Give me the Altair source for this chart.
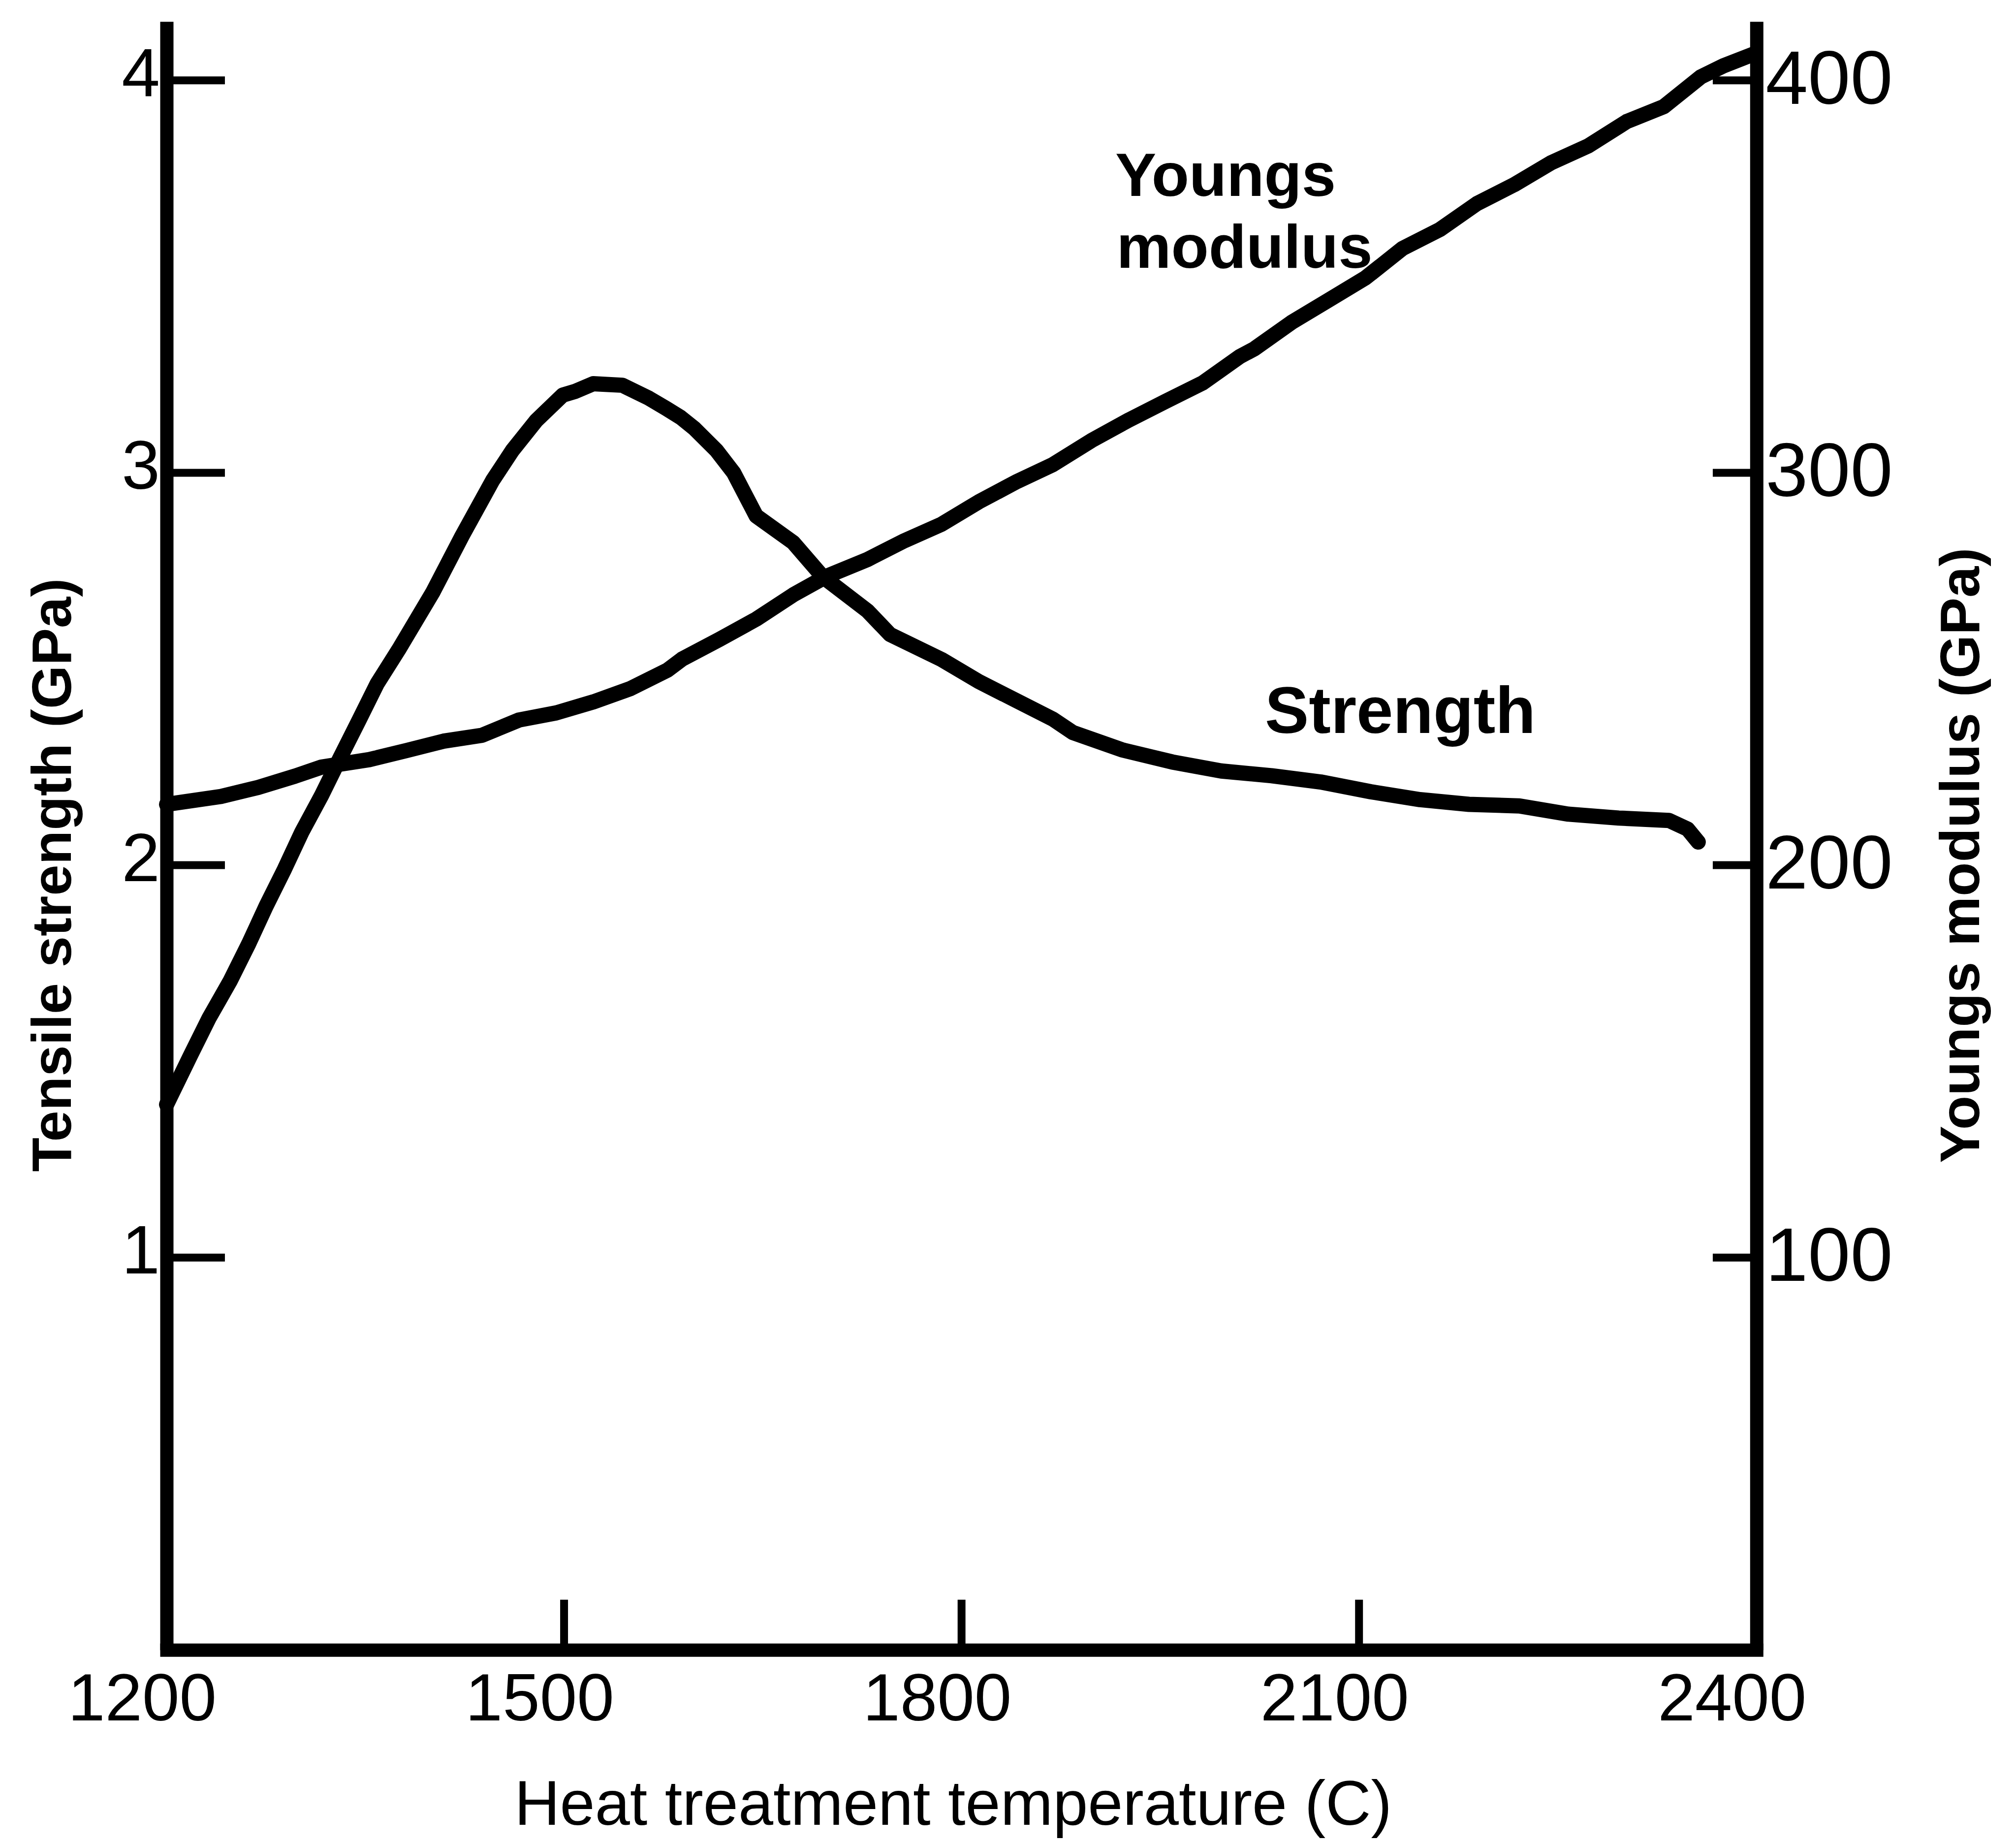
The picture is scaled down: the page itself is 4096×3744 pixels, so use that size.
import altair as alt
import pandas as pd

# ---- data ----
strength_T = [1200, 1218, 1232, 1248, 1262, 1275, 1289, 1302, 1317, 1331, 1345, 1359,
              1376, 1401, 1423, 1446, 1461, 1479, 1499, 1508, 1522, 1544, 1564, 1577,
              1588, 1598, 1615, 1628, 1645, 1673, 1695, 1729, 1746, 1785, 1813, 1841,
              1869, 1884, 1921, 1959, 1996, 2034, 2071, 2109, 2146, 2183, 2221, 2258,
              2296, 2334, 2348, 2356]
strength_S = [1.39, 1.515, 1.61, 1.705, 1.80, 1.895, 1.99, 2.084, 2.178, 2.274, 2.368, 2.463,
              2.554, 2.696, 2.839, 2.98, 3.057, 3.133, 3.198, 3.207, 3.227, 3.223, 3.19, 3.164,
              3.141, 3.114, 3.057, 3.0, 2.89, 2.822, 2.736, 2.648, 2.588, 2.524, 2.468, 2.42,
              2.372, 2.338, 2.294, 2.263, 2.24, 2.228, 2.212, 2.187, 2.167, 2.155, 2.151, 2.13,
              2.12, 2.114, 2.092, 2.059]

young_T = [1200, 1241, 1269, 1297, 1317, 1353, 1381, 1409, 1438, 1466, 1494, 1522, 1550,
           1578, 1589, 1617, 1645, 1673, 1698, 1729, 1757, 1785, 1813, 1842, 1869, 1898,
           1926, 1954, 1982, 2010, 2021, 2049, 2077, 2105, 2133, 2161, 2189, 2217, 2245,
           2273, 2302, 2330, 2358, 2375, 2397]
young_E = [215.5, 217.5, 219.8, 222.7, 225.0, 226.9, 229.2, 231.6, 233.1, 237.0, 238.8, 241.6, 245.0,
           249.7, 252.5, 257.5, 262.7, 268.9, 273.6, 277.9, 282.7, 286.9, 292.6, 297.8, 302.1, 308.2,
           313.4, 318.2, 322.9, 329.6, 331.6, 338.3, 344.0, 349.7, 357.2, 362.0, 368.6, 373.4, 379.0,
           383.3, 389.5, 393.3, 400.9, 403.7, 406.6]

x_ticks = [1200, 1500, 1800, 2100, 2400]
left_ticks = [1, 2, 3, 4]
right_ticks = [100, 200, 300, 400]

annot_young = ["Youngs", "modulus"]
annot_young_T = [1916, 1917]
annot_young_S = [3.705, 3.523]
annot_str = ["Strength"]
annot_str_T = [2029]
annot_str_S = [2.337]

# ---- styling constants ----
XMIN, XMAX = 1200, 2400
YMAX_L, YMAX_R = 4.15, 415
TICK_L = 44      # deg C, inward tick length on left axis
TICK_R = 33      # deg C, inward tick length on right axis
TICK_X = 0.128   # GPa, inward tick length on x axis

df_s = pd.DataFrame({"T": strength_T, "S": strength_S})
df_y = pd.DataFrame({"T": young_T, "E": young_E})
df_xt = pd.DataFrame({"T": [v for v in x_ticks if XMIN < v < XMAX]})
df_xt["S"] = 0.0
df_xt["S1"] = TICK_X
df_lt = pd.DataFrame({"S": left_ticks})
df_lt["T"] = XMIN
df_lt["T1"] = XMIN + TICK_L
df_rt = pd.DataFrame({"E": right_ticks})
df_rt["T"] = XMAX - TICK_R
df_rt["T1"] = XMAX
df_ay = pd.DataFrame({"label": annot_young, "T": annot_young_T, "S": annot_young_S})
df_as = pd.DataFrame({"label": annot_str, "T": annot_str_T, "S": annot_str_S})

FONT = "Liberation Sans"
common = dict(domainColor="black", domainWidth=27, ticks=False,
              grid=False, labelColor="black", labelFont=FONT, titleColor="black",
              titleFont=FONT, labelOverlap=False, labelLimit=0, titleLimit=0)

xscale = alt.Scale(domain=[XMIN, XMAX], nice=False, zero=False)
ylscale = alt.Scale(domain=[0, YMAX_L], nice=False)
yrscale = alt.Scale(domain=[0, YMAX_R], nice=False)

xaxis = alt.Axis(values=x_ticks, format="d", labelFontSize=136, labelPadding=36,
                 labelOffset=-50, labelFlush=False, domainCap="square",
                 title="Heat treatment temperature (C)", titleFontSize=128,
                 titleFontWeight="normal", titleX=1600, titleY=355,
                 titleBaseline="alphabetic", titleAlign="center", **common)
ylaxis = alt.Axis(orient="left", values=left_ticks, format="d", labelFontSize=140,
                  labelPadding=14, labelOffset=-10, domainCap="butt",
                  title="Tensile strength (GPa)", titleFontSize=114, titleFontWeight="bold",
                  titleAngle=270, titleX=-195, titleY=1736, titleBaseline="alphabetic",
                  titleAlign="center", **common)
yraxis = alt.Axis(orient="right", values=right_ticks, format="d", labelFontSize=155,
                  labelPadding=18, domainCap="butt",
                  title="Youngs modulus (GPa)", titleFontSize=114, titleFontWeight="bold",
                  titleAngle=270, titleX=452, titleY=1696, titleBaseline="alphabetic",
                  titleAlign="center", **common)

X = alt.X("T:Q", scale=xscale, axis=xaxis)
YL = alt.Y("S:Q", scale=ylscale, axis=ylaxis)
YR = alt.Y("E:Q", scale=yrscale, axis=yraxis)

line_kw = dict(color="black", strokeWidth=31, strokeCap="round", strokeJoin="round")
rule_kw = dict(color="black", strokeWidth=16)

strength_line = alt.Chart(df_s).mark_line(**line_kw).encode(x=X, y=YL, order="T:Q")
lt_rules = alt.Chart(df_lt).mark_rule(**rule_kw).encode(x=X, x2="T1:Q", y=YL)
xt_rules = alt.Chart(df_xt).mark_rule(**rule_kw).encode(x=X, y=YL, y2="S1:Q")
txt_young = alt.Chart(df_ay).mark_text(align="left", baseline="alphabetic", font=FONT,
                                       fontWeight="bold", fontSize=125, color="black").encode(
    x=X, y=YL, text="label:N")
txt_str = alt.Chart(df_as).mark_text(align="left", baseline="alphabetic", font=FONT,
                                     fontWeight="bold", fontSize=134, color="black").encode(
    x=X, y=YL, text="label:N")

young_line = alt.Chart(df_y).mark_line(**line_kw).encode(x=X, y=YR, order="T:Q")
rt_rules = alt.Chart(df_rt).mark_rule(**rule_kw).encode(x=X, x2="T1:Q", y=YR)

left = alt.layer(strength_line, lt_rules, xt_rules, txt_young, txt_str)
right = alt.layer(young_line, rt_rules)

chart = alt.layer(left, right).resolve_scale(y="independent").properties(
    width=3235, height=3313,
    autosize=alt.AutoSizeParams(type="none"),
    padding={"left": 331, "top": 33, "right": 520, "bottom": 400},
    background="white",
).configure_view(stroke=None)

chart.save("out.html", embed_options={"renderer": "svg", "actions": False})
